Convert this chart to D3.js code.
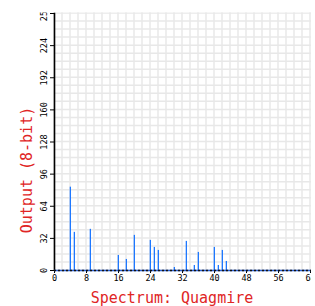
<!DOCTYPE html>
<html><head><meta charset="utf-8">
<script src="https://cdn.jsdelivr.net/npm/d3@7"></script>
<style>html,body{margin:0;padding:0;background:#fff;overflow:hidden}</style>
</head><body>
<script>
const bins = [4,5,9,16,18,20,24,25,26,30,33,35,36,40,41,42,43];
const values = [83,38,41,15,11,35,30,23,20,3,29,5,18,23,5,20,9];
const xTicks = [0,8,16,24,32,40,48,56,64];
const yTicks = [0,32,64,96,128,160,192,224,256];
const xLabel = "Spectrum: Quagmire";
const yLabel = "Output (8-bit)";

const W = 315, H = 306;
const svg = d3.select("body").append("svg").attr("width", W).attr("height", H);
const x = d3.scaleLinear([0,64],[54,310]);
const y = d3.scaleLinear([0,256],[270,13]);

svg.append("defs").append("clipPath").attr("id","clip")
  .append("rect").attr("x",0).attr("y",12.5).attr("width",311).attr("height",H);

const g = svg.append("g").attr("clip-path","url(#clip)");

// grid
const grid = g.append("g").attr("stroke","#e8e8e8").attr("stroke-width",1.5);
grid.selectAll("line.v").data(d3.range(0,65,2)).join("line")
  .attr("x1",d=>x(d)).attr("x2",d=>x(d)).attr("y1",y(256)-1).attr("y2",y(0));
grid.selectAll("line.h").data(d3.range(0,257,8)).join("line")
  .attr("x1",x(0)).attr("x2",W).attr("y1",d=>y(d)).attr("y2",d=>y(d));

// bars
g.append("g").selectAll("rect").data(bins).join("rect")
  .attr("x",d=>x(d)-0.3).attr("width",1.3)
  .attr("y",(d,i)=>y(values[i])).attr("height",(d,i)=>y(0)-y(values[i]))
  .attr("fill","#1e78ff");

// y axis
const yAxis = g.append("g").attr("transform",`translate(${x(0)},0)`)
  .call(d3.axisLeft(y).tickValues(yTicks).tickSize(4).tickPadding(2));
yAxis.select(".domain").attr("stroke","#000").attr("stroke-width",1.6)
  .attr("d",`M0.5,${y(256)-0.5}V${y(0)}`);
yAxis.selectAll("text").attr("transform","rotate(-90)")
  .attr("x",0).attr("y",-7).attr("dy",0).attr("text-anchor","middle")
  .attr("font-family","DejaVu Sans Mono").attr("font-size",8.5).attr("fill","#000");

// x axis
const xAxis = g.append("g").attr("transform",`translate(0,${y(0)})`)
  .call(d3.axisBottom(x).tickValues(xTicks).tickSize(3).tickPadding(2));
xAxis.select(".domain").remove();
xAxis.selectAll("text").attr("font-family","DejaVu Sans Mono").attr("font-size",8.5).attr("fill","#000");
xAxis.append("line").attr("x1",x(0)).attr("x2",W).attr("y1",0.5).attr("y2",0.5)
  .attr("stroke","#2a5fd0").attr("stroke-width",1.5);
xAxis.append("line").attr("x1",x(0)).attr("x2",W).attr("y1",0.5).attr("y2",0.5)
  .attr("stroke","#111").attr("stroke-width",1.5).attr("stroke-dasharray","2,2");

// labels
svg.append("text").attr("x",172).attr("y",303).attr("text-anchor","middle")
  .attr("font-family","DejaVu Sans Mono").attr("font-size",15).attr("fill","#e02525").text(xLabel);
svg.append("text").attr("transform","translate(32,170) rotate(-90)").attr("text-anchor","middle")
  .attr("font-family","DejaVu Sans Mono").attr("font-size",15).attr("fill","#e02525").text(yLabel);
</script>
</body></html>
